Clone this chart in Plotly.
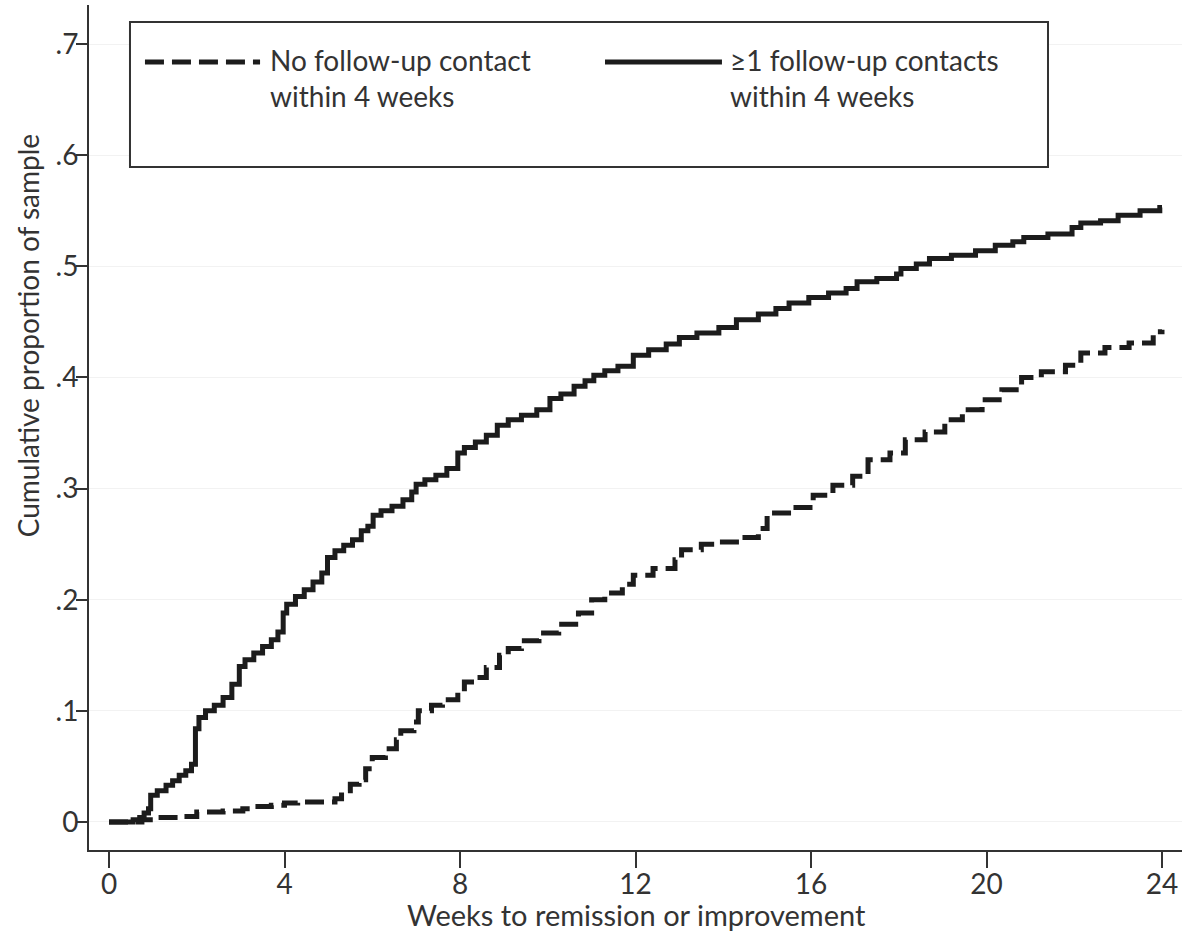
import plotly.graph_objects as go

# ---- data ----
weeks_contact = [0, 0.55, 0.7, 0.8, 0.9, 0.95, 1.1, 1.3, 1.45, 1.6, 1.75, 1.88, 1.97, 2.05, 2.2, 2.4,
                 2.6, 2.8, 2.97, 3.1, 3.3, 3.5, 3.7, 3.85, 3.97, 4.05, 4.25, 4.45, 4.65, 4.85, 4.98,
                 5.15, 5.35, 5.55, 5.75, 5.9, 6.02, 6.2, 6.45, 6.7, 6.9, 7.0, 7.2, 7.45, 7.7, 7.95,
                 8.1, 8.35, 8.6, 8.85, 9.1, 9.4, 9.75, 10.05, 10.3, 10.6, 10.85, 11.05, 11.3, 11.6,
                 11.95, 12.3, 12.7, 13.0, 13.4, 13.9, 14.3, 14.8, 15.2, 15.5, 15.95, 16.4, 16.8,
                 17.05, 17.5, 17.95, 18.05, 18.4, 18.7, 19.2, 19.75, 20.2, 20.6, 20.85, 21.4, 21.95,
                 22.15, 22.6, 23.0, 23.5, 23.95, 24.0]
prop_contact = [0, 0.002, 0.004, 0.008, 0.012, 0.024, 0.028, 0.033, 0.037, 0.042, 0.046, 0.052, 0.084,
                0.094, 0.100, 0.105, 0.112, 0.124, 0.140, 0.146, 0.152, 0.158, 0.164, 0.171, 0.188,
                0.196, 0.203, 0.209, 0.216, 0.224, 0.238, 0.244, 0.249, 0.254, 0.262, 0.266, 0.276,
                0.280, 0.284, 0.290, 0.297, 0.304, 0.308, 0.312, 0.318, 0.332, 0.337, 0.342, 0.348,
                0.357, 0.362, 0.366, 0.371, 0.381, 0.385, 0.392, 0.397, 0.402, 0.406, 0.410, 0.420,
                0.425, 0.430, 0.436, 0.440, 0.445, 0.452, 0.457, 0.462, 0.467, 0.472, 0.476, 0.480,
                0.486, 0.489, 0.493, 0.498, 0.502, 0.507, 0.510, 0.514, 0.519, 0.522, 0.526, 0.529,
                0.535, 0.539, 0.541, 0.546, 0.550, 0.553, 0.553]

weeks_none = [0, 0.75, 1.0, 1.6, 2.0, 2.6, 3.05, 3.3, 3.7, 4.0, 4.3, 5.15, 5.3, 5.5, 5.7, 5.85, 6.0,
              6.3, 6.55, 6.65, 6.95, 7.05, 7.35, 7.6, 7.95, 8.1, 8.35, 8.6, 8.9, 9.1, 9.4, 9.8,
              10.25, 10.7, 11.0, 11.3, 11.7, 11.95, 12.4, 12.9, 13.05, 13.5, 13.9, 14.4, 14.8,
              15.0, 15.55, 16.05, 16.5, 16.95, 17.3, 17.8, 18.15, 18.6, 19.05, 19.45, 19.9,
              20.35, 20.8, 21.25, 21.8, 22.15, 22.7, 23.25, 23.8, 24.0]
prop_none = [0, 0.002, 0.004, 0.005, 0.009, 0.010, 0.012, 0.014, 0.015, 0.017, 0.018, 0.021, 0.028,
             0.034, 0.038, 0.048, 0.058, 0.066, 0.074, 0.082, 0.090, 0.100, 0.105, 0.110, 0.114,
             0.126, 0.130, 0.139, 0.150, 0.156, 0.163, 0.170, 0.178, 0.188, 0.200, 0.206, 0.214,
             0.222, 0.228, 0.236, 0.245, 0.250, 0.252, 0.256, 0.264, 0.278, 0.283, 0.294, 0.303,
             0.311, 0.326, 0.332, 0.344, 0.351, 0.362, 0.371, 0.380, 0.389, 0.400, 0.405, 0.411,
             0.422, 0.427, 0.431, 0.441, 0.443]

x_ticks = [0, 4, 8, 12, 16, 20, 24]
y_ticks = [0, 0.1, 0.2, 0.3, 0.4, 0.5, 0.6, 0.7]
y_tick_labels = ["0", ".1", ".2", ".3", ".4", ".5", ".6", ".7"]
legend_labels = ["No follow-up contact<br>within 4 weeks", "≥1 follow-up contacts<br>within 4 weeks"]

INK = "#1c1c1c"
TXT = "#333333"
FONT = "Lato"
LW = 5

fig = go.Figure()
fig.add_trace(go.Scatter(x=weeks_none, y=prop_none, mode="lines", line_shape="hv",
                         line=dict(color=INK, width=LW, dash="19px,8px"), showlegend=False))
fig.add_trace(go.Scatter(x=weeks_contact, y=prop_contact, mode="lines", line_shape="hv",
                         line=dict(color=INK, width=LW), showlegend=False))

fig.update_layout(
    width=1190, height=944,
    margin=dict(l=89, r=8, t=5, b=94),
    paper_bgcolor="white", plot_bgcolor="white",
    font=dict(family=FONT, color=TXT, size=28),
    xaxis=dict(range=[-0.456, 24.456], tickvals=x_ticks, ticks="outside", ticklen=16,
               tickwidth=1.5, tickcolor=TXT, showline=True, linecolor=TXT, linewidth=2,
               showgrid=False, zeroline=False, tickfont=dict(size=28, color=TXT, family=FONT)),
    yaxis=dict(range=[-0.0252, 0.7351], tickvals=y_ticks, ticktext=y_tick_labels,
               ticks="outside", ticklen=11, tickwidth=1.5, tickcolor=TXT, showline=True,
               linecolor=TXT, linewidth=2, showgrid=True, gridcolor="#f2f2f2", gridwidth=1,
               zeroline=False, tickfont=dict(size=28, color=TXT, family=FONT)),
)
try:
    fig.update_xaxes(ticklabelstandoff=-8)
    fig.update_yaxes(ticklabelstandoff=-8)
except Exception:
    pass

# axis titles
fig.add_annotation(text="Weeks to remission or improvement", xref="paper", yref="paper",
                   x=0.5005, y=-0.0765, xanchor="center", yanchor="middle", showarrow=False,
                   font=dict(size=29, color=TXT, family=FONT))
fig.add_annotation(text="Cumulative proportion of sample", xref="paper", yref="paper",
                   x=-0.0558, y=0.608, xanchor="center", yanchor="middle", showarrow=False,
                   textangle=-90, font=dict(size=28, color=TXT, family=FONT))

# legend box
fig.add_shape(type="rect", xref="paper", yref="paper", x0=0.0375, x1=0.8774, y0=0.8083, y1=0.9799,
              line=dict(color=TXT, width=2), fillcolor="white", layer="above")
fig.add_shape(type="line", xref="paper", yref="paper", x0=0.0512, x1=0.1565, y0=0.9325, y1=0.9325,
              line=dict(color=INK, width=LW, dash="19px,8px"), layer="above")
fig.add_shape(type="line", xref="paper", yref="paper", x0=0.4721, x1=0.5791, y0=0.9325, y1=0.9325,
              line=dict(color=INK, width=LW), layer="above")
fig.add_annotation(text=legend_labels[0], xref="paper", yref="paper", x=0.1638, y=0.9135,
                   xanchor="left", yanchor="middle", align="left", showarrow=False,
                   font=dict(size=28, color=TXT, family=FONT))
fig.add_annotation(text=legend_labels[1], xref="paper", yref="paper", x=0.5846, y=0.9135,
                   xanchor="left", yanchor="middle", align="left", showarrow=False,
                   font=dict(size=28, color=TXT, family=FONT))

fig.write_html("out.html", config={"displayModeBar": False},
               post_script="document.body.style.margin='0px';")
